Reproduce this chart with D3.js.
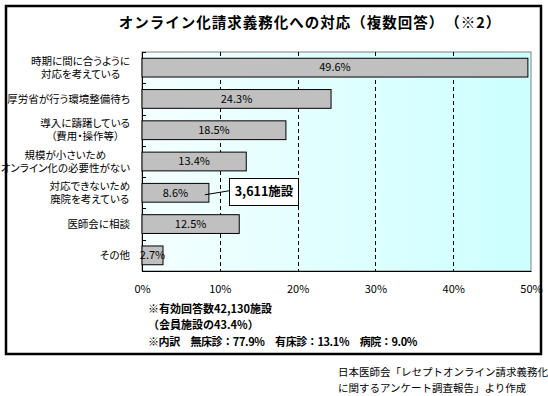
<!DOCTYPE html>
<html><head><meta charset="utf-8">
<script src="https://cdn.jsdelivr.net/npm/d3@7"></script>
<style>body{margin:0;background:#fff}svg{display:block}text{font-family:"Noto Sans CJK JP","Noto Sans",sans-serif}.lab{font-feature-settings:"palt"}</style>
</head><body>
<script>
const categories = ["時期に間に合うように\n対応を考えている","厚労省が行う環境整備待ち","導入に躊躇している\n（費用・操作等）","規模が小さいため\nオンライン化の必要性がない","対応できないため\n廃院を考えている","医師会に相談","その他"];
const values = [49.6, 24.3, 18.5, 13.4, 8.6, 12.5, 2.7];
const xTicks = [0, 10, 20, 30, 40, 50];
const title = "オンライン化請求義務化への対応（複数回答）　（※2）";
const callout = "3,611施設";
const notes = ["※有効回答数42,130施設","（会員施設の43.4%）","※内訳　無床診：77.9%　有床診：13.1%　病院：9.0%"];
const source = ["日本医師会「レセプトオンライン請求義務化","に関するアンケート調査報告」より作成"];

const W=548,H=396;
const svg=d3.select("body").append("svg").attr("width",W).attr("height",H);
svg.append("rect").attr("width",W).attr("height",H).attr("fill","#fff");
const defs=svg.append("defs");
const g=defs.append("linearGradient").attr("id","bg").attr("x1","0").attr("x2","1").attr("y1","0").attr("y2","0");
g.append("stop").attr("offset","0").attr("stop-color","#f4ffff");
g.append("stop").attr("offset","1").attr("stop-color","#ccffff");

// frame
svg.append("rect").attr("x",6).attr("y",6).attr("width",535).attr("height",348).attr("fill","none").attr("stroke","#000").attr("stroke-width",2.5);

const x=d3.scaleLinear().domain([0,50]).range([142,531]);
const y=d3.scaleBand().domain(categories).range([52,271]).paddingInner(0.4).paddingOuter(0.2);

svg.append("rect").attr("x",x(0)).attr("y",52).attr("width",x(50)-x(0)).attr("height",219).attr("fill","url(#bg)").attr("stroke","#808080").attr("stroke-width",1);

// gridlines
svg.append("g").selectAll("line").data(xTicks.filter(d=>d>0&&d<50)).join("line")
 .attr("x1",d=>Math.round(x(d))+0.5).attr("x2",d=>Math.round(x(d))+0.5).attr("y1",52).attr("y2",271)
 .attr("stroke","#000").attr("stroke-dasharray","4,3");

// axes
const xa=svg.append("g").attr("transform","translate(0,271)").call(d3.axisBottom(x).tickValues(xTicks).tickSize(0).tickPadding(14).tickFormat(d=>d+"%"));
xa.select(".domain").attr("stroke","#000");
xa.selectAll("text").attr("font-size",11).attr("fill","#000").attr("font-family",'"Noto Sans CJK JP",sans-serif');

const ya=svg.append("g").attr("transform",`translate(${x(0)},0)`);
ya.append("line").attr("x1",0.5).attr("x2",0.5).attr("y1",52).attr("y2",271).attr("stroke","#000");
const bounds=d3.range(categories.length+1).map(i=>52+i*(219/categories.length));
ya.selectAll("line.t").data(bounds).join("line").attr("class","t").attr("x1",0).attr("x2",4).attr("y1",d=>Math.round(d)+0.5).attr("y2",d=>Math.round(d)+0.5).attr("stroke","#000");

// bars
svg.append("g").selectAll("rect").data(values).join("rect")
 .attr("x",x(0)).attr("y",(d,i)=>y(categories[i])).attr("width",d=>x(d)-x(0)).attr("height",y.bandwidth())
 .attr("fill","#c0c0c0").attr("stroke","#000").attr("stroke-width",1);

svg.append("g").selectAll("text").data(values).join("text")
 .attr("x",d=>(x(d)+x(0))/2).attr("y",(d,i)=>y(categories[i])+y.bandwidth()/2).attr("dy","0.35em")
 .attr("text-anchor","middle").attr("font-size",11).text(d=>d.toFixed(1)+"%");

// category labels
const labRight=130;
categories.forEach(c=>{
  const lines=c.split("\n");
  const cy=y(c)+y.bandwidth()/2;
  const gt=svg.append("g");
  const ts=lines.map((l,j)=>gt.append("text").attr("class","lab").attr("font-size",10.5).attr("y",cy+(j-(lines.length-1)/2)*13).attr("dy","0.35em").attr("text-anchor","middle").text(l));
  const mw=d3.max(ts,t=>t.node().getComputedTextLength());
  ts.forEach(t=>t.attr("x",labRight-mw/2));
});

// callout
const cv=values[4], cc=categories[4];
const cyc=y(cc)+y.bandwidth()/2;
svg.append("line").attr("x1",x(cv)-4).attr("y1",cyc+2).attr("x2",229).attr("y2",cyc-2).attr("stroke","#000");
svg.append("rect").attr("x",229.5).attr("y",178.5).attr("width",69).attr("height",27).attr("fill","#fff").attr("stroke","#000");
svg.append("text").attr("x",264).attr("y",192).attr("dy","0.35em").attr("text-anchor","middle").attr("font-size",12.5).attr("font-weight","bold").text(callout);

// title
svg.append("text").attr("x",310).attr("y",23).attr("dy","0.35em").attr("text-anchor","middle").attr("font-size",14.5).attr("font-weight","bold").attr("letter-spacing",1).text(title);

// notes
[309,325,342].forEach((yy,i)=>svg.append("text").attr("x",148).attr("y",yy).attr("dy","0.35em").attr("font-size",11).attr("font-weight","bold").attr("letter-spacing",i===2?-0.4:0).text(notes[i]));
source.forEach((s,i)=>svg.append("text").attr("x",338).attr("y",372+i*16).attr("dy","0.35em").attr("font-size",10.5).text(s));
</script>
</body></html>
